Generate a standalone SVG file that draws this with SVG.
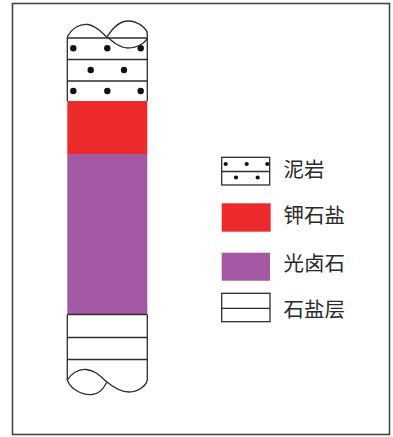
<svg xmlns="http://www.w3.org/2000/svg" width="393" height="437" viewBox="0 0 393 437">
  <style>
    .ln { fill: none; stroke: #2e2e2e; stroke-width: 1.3; }
    .dot { fill: #111; }
    .lab { font-family: "Noto Sans CJK SC", "Noto Sans", sans-serif; font-size: 20.5px; fill: #2a2a2a; dominant-baseline: central; }
    .red { fill: #ec2a2b; }
    .pur { fill: #a459a4; }
  </style>
  <defs>
    <g id="dots3">
      <circle class="dot" cx="0" cy="0" r="3.2"/>
      <circle class="dot" cx="34" cy="0" r="3.2"/>
      <circle class="dot" cx="67.4" cy="0" r="3.2"/>
    </g>
  </defs>

  <rect x="12.5" y="3.5" width="377" height="431" fill="#fff" stroke="#4a4545" stroke-width="1.6"/>

  <!-- stratigraphic column -->
  <g id="column">
    <!-- mudstone at top -->
    <g id="mudstone">
      <rect x="67.3" y="38" width="80" height="63" fill="#fff"/>
      <path class="ln" d="M67.3,37 V101 M147.3,33 V101 M67.3,38 H147.3 M67.3,59.5 H147.3 M67.3,81 H147.3"/>
      <use href="#dots3" x="73.3" y="48.3"/>
      <circle class="dot" cx="90.7" cy="70" r="3.2"/>
      <circle class="dot" cx="124" cy="70" r="3.2"/>
      <use href="#dots3" x="73.3" y="91"/>
      <!-- broken-core break line at top -->
      <path class="ln" d="M67.3,37 C72,28 80,23.5 88,24.5 C97,26 102,33 107,37 C113,42 120,48 128,48 C138,48 146,42 147.3,38"/>
      <path class="ln" d="M107,37 C112,29 119,21 128,21 C138,21 146,28 147.3,33"/>
    </g>
    <rect id="sylvite" class="red" x="67.3" y="101" width="80" height="53"/>
    <rect id="carnallite" class="pur" x="67.3" y="154" width="80" height="160.5"/>
    <!-- rock salt at bottom -->
    <g id="rocksalt">
      <path class="ln" d="M67.3,314.5 V380 M147.3,314.5 V380 M67.3,314.5 H147.3 M67.3,337.5 H147.3 M67.3,359.5 H147.3"/>
      <!-- broken-core break line at bottom -->
      <path class="ln" d="M67.3,380 C71,374 78,369 86,369.5 C95,370 101,377 107,382 C113,387 120,392 129,392 C138,392 146,386 147.3,380"/>
      <path class="ln" d="M67.3,380 C70,388 80,395 92,394.5 C100,394 104,388 107,382"/>
    </g>
  </g>

  <!-- legend -->
  <g id="legend-mudstone">
    <rect class="ln" x="221.7" y="157.3" width="48" height="27.7" fill="#fff"/>
    <path class="ln" d="M221.7,171.5 H269.7"/>
    <circle class="dot" cx="225.7" cy="164" r="2.1"/>
    <circle class="dot" cx="246.7" cy="164" r="2.1"/>
    <circle class="dot" cx="267.3" cy="164" r="2.1"/>
    <circle class="dot" cx="236" cy="177.5" r="2.1"/>
    <circle class="dot" cx="257.7" cy="177.5" r="2.1"/>
    <text class="lab" x="283.5" y="167.5">泥岩</text>
  </g>
  <g id="legend-sylvite">
    <rect class="red" x="221.7" y="203.3" width="49" height="28.4"/>
    <text class="lab" x="283.5" y="214">钾石盐</text>
  </g>
  <g id="legend-carnallite">
    <rect class="pur" x="221.7" y="252.7" width="48.3" height="28"/>
    <text class="lab" x="283.5" y="262">光卤石</text>
  </g>
  <g id="legend-rocksalt">
    <rect class="ln" x="221.7" y="293.3" width="48.3" height="28.4" fill="#fff"/>
    <path class="ln" d="M221.7,308.3 H270"/>
    <text class="lab" x="283.5" y="307.5">石盐层</text>
  </g>
</svg>
